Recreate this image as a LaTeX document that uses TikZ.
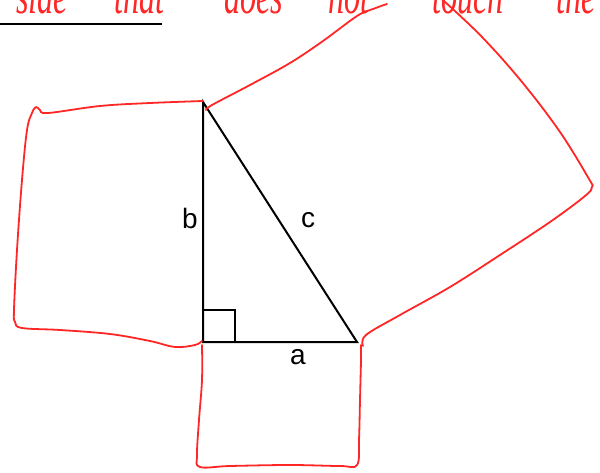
\documentclass[tikz,border=0pt]{standalone}
\usepackage{fontspec}
\setmainfont{Liberation Sans}
\newfontfamily\handfont{Liberation Serif}
\begin{document}
\begin{tikzpicture}[x=1pt,y=-1pt,
  pen/.style={draw=red!85!white,line width=1.8pt,line cap=round,line join=round},
  tri/.style={draw=black,line width=2pt},
  lbl/.style={font=\fontsize{28}{30}\selectfont,inner sep=0pt},
  hand/.style={font=\handfont\itshape\fontsize{52}{52}\selectfont,text=red!85!white,inner sep=0pt,anchor=base west}]
\useasboundingbox (0,0) rectangle (600,473);
\clip (0,0) rectangle (600,473);
% handwritten heading, cut off at the top
\node[hand] (w1) at (16,14) {\scalebox{0.62}[1]{side}};
\node[hand] (w2) at (114,14) {\scalebox{0.62}[1]{that}};
\node[hand] (w3) at (224,14) {\scalebox{0.62}[1]{does}};
\node[hand] (w4) at (328,14) {\scalebox{0.62}[1]{not}};
\node[hand] (w5) at (432,14) {\scalebox{0.62}[1]{touch}};
\node[hand] (w6) at (556,14) {\scalebox{0.62}[1]{the}};
\draw[black,line width=1.6pt] (0,24) -- (162,24);
% triangle
\coordinate (B) at (203,102);
\coordinate (C) at (203,342);
\coordinate (A) at (357,342);
\draw[tri,line join=miter] (B) -- (C) -- (A) -- cycle;
\draw[tri] (203,310) -- (235,310) -- (235,342);
\node[lbl] (lb) at (190,218) {b};
\node[lbl] (lc) at (308,220) {c};
\node[lbl] (la) at (298,357) {a};
% red squares
\draw[pen] plot[smooth,tension=0.6] coordinates {(203,101) (150,103) (100,106) (48,113) (40,110) (36,107) (32,113) (27,130) (22,180) (17,250) (14,310) (15,322) (22,328) (60,330) (110,334) (150,341) (175,347) (195,345) (202,341)};
\draw[pen] plot[smooth,tension=0.6] coordinates {(202,345) (202,380) (199,420) (197,455) (200,467) (230,466) (290,465) (340,466) (357,465) (359,440) (360,400) (361,360) (361,345)};
\draw[pen] plot[smooth,tension=0.6] coordinates {(363,346) (366,335) (400,315) (450,287) (500,255) (550,222) (585,196) (592,187) (589,179) (560,132) (522,82) (482,37) (443,0) (435,-8)};
\draw[pen] plot[smooth,tension=0.6] coordinates {(206,110) (212,105) (250,85) (290,63) (323,41) (357,16) (373,9) (387,4)};
\end{tikzpicture}
\end{document}
